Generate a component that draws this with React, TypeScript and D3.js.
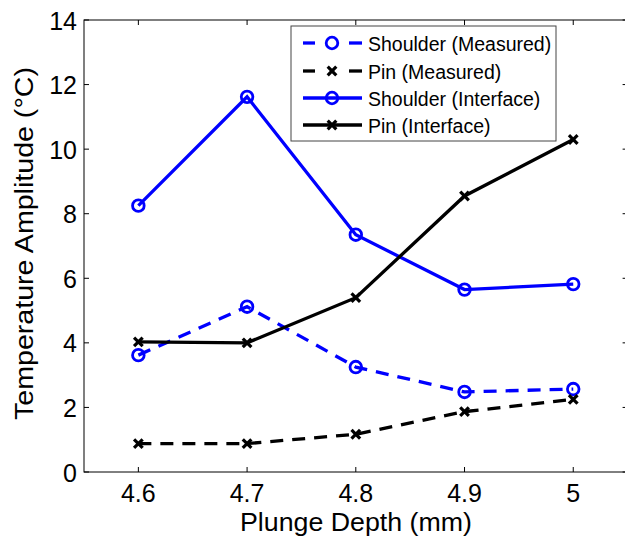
import React from "react";
import * as d3 from "d3";

const depths = [4.6, 4.7, 4.8, 4.9, 5.0];
const shoulderMeasured = [3.62, 5.12, 3.25, 2.48, 2.57];
const pinMeasured = [0.88, 0.88, 1.17, 1.87, 2.25];
const shoulderInterface = [8.25, 11.62, 7.35, 5.65, 5.82];
const pinInterface = [4.03, 4.0, 5.4, 8.55, 10.3];
const xTicks = [4.6, 4.7, 4.8, 4.9, 5.0];
const yTicks = [0, 2, 4, 6, 8, 10, 12, 14];

const seriesList = [
  { name: "Shoulder (Measured)", values: shoulderMeasured, color: "#0000ff", dashed: true, marker: "o" },
  { name: "Pin (Measured)", values: pinMeasured, color: "#000000", dashed: true, marker: "x" },
  { name: "Shoulder (Interface)", values: shoulderInterface, color: "#0000ff", dashed: false, marker: "o" },
  { name: "Pin (Interface)", values: pinInterface, color: "#000000", dashed: false, marker: "x" },
];

const W = 625, H = 536;
const left = 84, right = 627.6, top = 20, bottom = 472;
const font = "'Liberation Sans', Arial, Helvetica, sans-serif";

function Marker({ type, cx, cy, color }: { type: string; cx: number; cy: number; color: string }) {
  if (type === "o") {
    return <circle cx={cx} cy={cy} r={5.8} fill="none" stroke={color} strokeWidth={2.8} />;
  }
  const s = 4.3;
  return (
    <g stroke={color} strokeWidth={3.2} strokeLinecap="butt">
      <line x1={cx - s} y1={cy - s} x2={cx + s} y2={cy + s} />
      <line x1={cx - s} y1={cy + s} x2={cx + s} y2={cy - s} />
    </g>
  );
}

export default function App() {
  const x = d3.scaleLinear().domain([4.55, 5.05]).range([left, right]);
  const y = d3.scaleLinear().domain([0, 14]).range([bottom, top]);
  const line = d3.line<number>().x((_, i) => x(depths[i])).y((v) => y(v));
  const fmt = d3.format("");

  const legX = 291, legY = 26, legW = 265, legH = 115;
  const rowY = [43, 71, 98, 125];

  return (
    <svg width={W} height={H} style={{ position: "absolute", left: 0, top: 0, background: "#fff" }} fontFamily={font}>
      <rect x={0} y={0} width={W} height={H} fill="#fff" />
      <rect x={left} y={top} width={right - left} height={bottom - top} fill="none" stroke="#000" strokeWidth={1} />
      {xTicks.map((t) => (
        <g key={"x" + t}>
          <line x1={x(t)} x2={x(t)} y1={bottom} y2={bottom - 5} stroke="#000" />
          <line x1={x(t)} x2={x(t)} y1={top} y2={top + 5} stroke="#000" />
          <text x={x(t)} y={502} textAnchor="middle" fontSize={25}>{fmt(t)}</text>
        </g>
      ))}
      {yTicks.map((t) => (
        <g key={"y" + t}>
          <line x1={left} x2={left + 5} y1={y(t)} y2={y(t)} stroke="#000" />
          <line x1={right} x2={right - 5} y1={y(t)} y2={y(t)} stroke="#000" />
          <text x={left - 7} y={y(t) + 9.5} textAnchor="end" fontSize={25}>{t}</text>
        </g>
      ))}
      <text x={356} y={531} textAnchor="middle" fontSize={25} textLength={232} lengthAdjust="spacingAndGlyphs">Plunge Depth (mm)</text>
      <text transform={`translate(33, 243.5) rotate(-90)`} textAnchor="middle" fontSize={26.5} textLength={353} lengthAdjust="spacingAndGlyphs">
        Temperature Amplitude (°C)
      </text>
      {seriesList.map((s) => (
        <g key={s.name}>
          <path d={line(s.values) || ""} fill="none" stroke={s.color} strokeWidth={3.3}
            strokeDasharray={s.dashed ? "13 9" : undefined} />
          {s.values.map((v, i) => (
            <Marker key={i} type={s.marker} cx={x(depths[i])} cy={y(v)} color={s.color} />
          ))}
        </g>
      ))}
      <rect x={legX} y={legY} width={legW} height={legH} fill="#fff" stroke="#444" strokeWidth={1} />
      {seriesList.map((s, i) => (
        <g key={"leg" + s.name}>
          {s.dashed ? (
            <g stroke={s.color} strokeWidth={3.3}>
              <line x1={303} x2={315} y1={rowY[i]} y2={rowY[i]} />
              <line x1={349} x2={362} y1={rowY[i]} y2={rowY[i]} />
            </g>
          ) : (
            <line x1={303} x2={362} y1={rowY[i]} y2={rowY[i]} stroke={s.color} strokeWidth={3.3} />
          )}
          <Marker type={s.marker} cx={332} cy={rowY[i]} color={s.color} />
          <text x={368} y={rowY[i] + 8} fontSize={19.5}>{s.name}</text>
        </g>
      ))}
    </svg>
  );
}
